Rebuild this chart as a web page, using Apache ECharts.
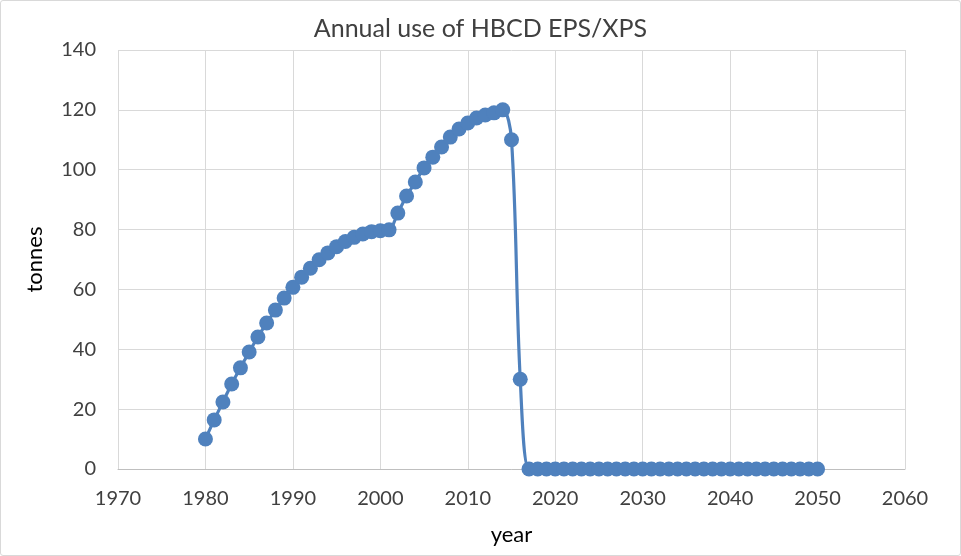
<!DOCTYPE html>
<html><head><meta charset="utf-8">
<script src="https://cdn.jsdelivr.net/npm/echarts@6/dist/echarts.min.js"></script>
<style>
html,body{margin:0;padding:0;background:#fff;}
#frame{position:absolute;left:0;top:0;width:959px;height:554px;border:1px solid #d9d9d9;border-radius:3px;}
#c{position:absolute;left:0;top:0;width:961px;height:556px;}
</style></head>
<body><div id="frame"></div><div id="c"></div>
<script>
const years = [];
for (let y = 1980; y <= 2050; y++) years.push(y);
const tonnes = [
  10, 16.4, 22.4, 28.4, 33.8, 39.1, 44.1, 48.8, 53.1, 57.1,
  60.7, 64.1, 67.1, 69.9, 72.2, 74.3, 76.0, 77.4, 78.5, 79.3,
  79.6, 79.9, 85.5, 91.2, 95.9, 100.6, 104.2, 107.6, 110.9, 113.6,
  115.6, 117.3, 118.3, 119.0, 120.0, 110.0, 30.0,
  0,0,0,0,0,0,0,0,0,0, 0,0,0,0,0,0,0,0,0,0, 0,0,0,0,0,0,0,0,0,0, 0,0,0,0
];
const xTicks = {min: 1970, max: 2060, interval: 10};
const yTicks = {min: 0, max: 140, interval: 20};

const chart = echarts.init(document.getElementById('c'));
const font = 'Lato, "Liberation Sans", sans-serif';
chart.setOption({
  animation: false,
  title: {text: 'Annual use of HBCD EPS/XPS', left: 'center', top: 11,
    textStyle: {fontFamily: font, fontSize: 25, fontWeight: 'normal', color: '#404040'}},
  grid: {left: 118, right: 56, top: 50, bottom: 87},
  xAxis: {type: 'value', min: xTicks.min, max: xTicks.max, interval: xTicks.interval,
    name: 'year', nameLocation: 'middle', nameGap: 55,
    nameTextStyle: {fontFamily: font, fontSize: 22, color: '#000'},
    axisLine: {lineStyle: {color: '#bfbfbf', width: 1}},
    axisTick: {show: false},
    axisLabel: {fontFamily: font, fontSize: 20, color: '#404040', margin: 20,
      formatter: v => String(v)},
    splitLine: {show: true, lineStyle: {color: '#d9d9d9', width: 1}}},
  yAxis: {type: 'value', min: yTicks.min, max: yTicks.max, interval: yTicks.interval,
    name: 'tonnes', nameLocation: 'middle', nameGap: 72, nameRotate: 90,
    nameTextStyle: {fontFamily: font, fontSize: 22, color: '#000'},
    axisLine: {show: false}, axisTick: {show: false},
    axisLabel: {fontFamily: font, fontSize: 20, color: '#404040', margin: 22},
    splitLine: {show: true, lineStyle: {color: '#d9d9d9', width: 1}}},
  series: [{
    type: 'line', data: years.map((y, i) => [y, tonnes[i]]),
    smooth: 0.35, symbol: 'circle', symbolSize: 15,
    lineStyle: {color: '#4f81bd', width: 3.2},
    itemStyle: {color: '#4f81bd'}
  }]
});
</script></body></html>
